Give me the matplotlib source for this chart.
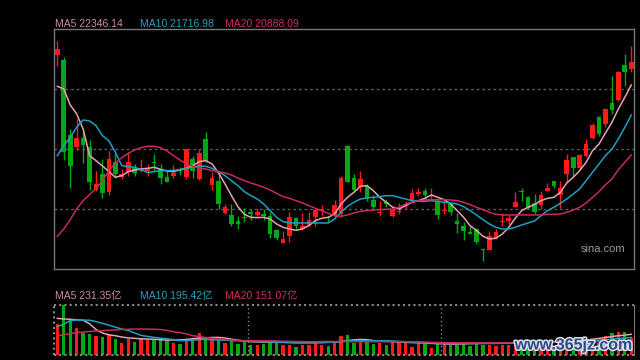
import numpy as np
import matplotlib
matplotlib.use("Agg")
import matplotlib.pyplot as plt
import matplotlib.patheffects as pe

plt.rcParams['font.family'] = ['Liberation Sans', 'Noto Sans CJK SC', 'DejaVu Sans']

# daily candles (index points)
opens = [22951, 22841, 21296, 21055, 21234, 21042, 20161, 20492, 20120, 20739,
         20423, 20540, 20615, 20554, 20547, 20746, 20595, 20437, 20443, 20588,
         20423, 20794, 20389, 21213, 20271, 20355, 19695, 19647, 19523, 19612,
         19709, 19654, 19667, 19619, 19337, 19076, 19221, 19578, 19358, 19447,
         19612, 19736, 19612, 19647, 19667, 21076, 20402, 20230, 20251, 19955,
         19681, 19908, 19633, 19702, 19853, 19955, 20086, 20134, 20045, 19942,
         19722, 19873, 19530, 19427, 19289, 19358, 18946, 18932, 19166, 19495,
         19530, 19818, 20141, 20024, 19894, 19860, 20148, 20348, 20066, 20492,
         20849, 20615, 20862, 21234, 21673, 21522, 21955, 22017, 22745, 22656]
highs = [23226, 22896, 21419, 21625, 21385, 21192, 20561, 20801, 20973, 20904,
         20595, 20938, 20698, 20801, 20691, 20904, 20698, 20561, 20677, 20643,
         21007, 20869, 20986, 21364, 20526, 20526, 19873, 19873, 19633, 19791,
         19770, 19770, 19770, 19716, 19358, 19324, 19702, 19598, 19681, 19716,
         19770, 19859, 19633, 19955, 20457, 21089, 20492, 20561, 20286, 20059,
         19942, 19976, 19839, 19894, 19942, 20182, 20196, 20203, 20203, 19962,
         19942, 19921, 19681, 19509, 19427, 19372, 18960, 19324, 19358, 19681,
         19654, 20114, 20210, 20045, 20079, 20148, 20306, 20355, 20355, 20904,
         20849, 20904, 21213, 21536, 21694, 21845, 22518, 22621, 22965, 23137]
lows = [22724, 20780, 20203, 20986, 20711, 20168, 20134, 19997, 20066, 20409,
        20389, 20457, 20457, 20526, 20457, 20561, 20286, 20320, 20409, 20464,
        20389, 20409, 20375, 20732, 20161, 19770, 19667, 19413, 19358, 19495,
        19550, 19633, 19550, 19166, 19131, 19069, 19097, 19358, 19344, 19427,
        19420, 19633, 19482, 19598, 19598, 20320, 20114, 20127, 19942, 19770,
        19633, 19805, 19612, 19667, 19770, 19921, 20045, 19976, 19976, 19564,
        19667, 19654, 19275, 19138, 19255, 19049, 18706, 18925, 19152, 19427,
        19461, 19805, 19942, 19770, 19667, 19770, 20134, 20196, 19784, 20320,
        20423, 20595, 20835, 21213, 21282, 21454, 21728, 22003, 22312, 22587]
closes = [23068, 20952, 20663, 21234, 21096, 20334, 20286, 20107, 20801, 20492,
          20492, 20732, 20512, 20608, 20588, 20718, 20402, 20334, 20505, 20554,
          21000, 20561, 20931, 20766, 20402, 19880, 19818, 19468, 19454, 19592,
          19674, 19716, 19633, 19262, 19180, 19152, 19598, 19413, 19420, 19537,
          19750, 19763, 19592, 19853, 20409, 20334, 20161, 20389, 19990, 19818,
          19709, 19880, 19750, 19729, 19880, 20100, 20114, 20059, 20066, 19654,
          19750, 19716, 19468, 19317, 19262, 19097, 18918, 19207, 19303, 19530,
          19578, 19914, 20120, 19798, 19716, 20066, 20203, 20251, 20196, 20780,
          20622, 20883, 21110, 21508, 21316, 21831, 21811, 22601, 22601, 22807]

ma5 = [22298, 22243, 21914, 21729, 21419, 20869, 20766, 20656, 20540, 20423,
       20457, 20540, 20574, 20595, 20608, 20629, 20588, 20554, 20540, 20574,
       20608, 20663, 20746, 20766, 20698, 20512, 20286, 20045, 19818, 19660,
       19598, 19592, 19598, 19564, 19461, 19392, 19358, 19330, 19358, 19427,
       19530, 19578, 19598, 19667, 19873, 20010, 20114, 20237, 20251, 20148,
       20010, 19908, 19805, 19770, 19839, 19908, 19942, 19990, 20059, 20010,
       19962, 19873, 19736, 19598, 19427, 19324, 19207, 19152, 19166, 19255,
       19392, 19578, 19736, 19805, 19860, 19942, 19990, 20010, 20114, 20306,
       20423, 20561, 20732, 20973, 21110, 21337, 21556, 21831, 22072, 22326]
ma10 = [20869, 21076, 21247, 21454, 21604, 21584, 21488, 21282, 21172, 20938,
        20663, 20643, 20629, 20581, 20519, 20540, 20561, 20561, 20567, 20581,
        20608, 20636, 20656, 20650, 20608, 20540, 20457, 20355, 20251, 20127,
        20045, 19976, 19873, 19736, 19598, 19509, 19482, 19482, 19482, 19482,
        19482, 19482, 19482, 19564, 19702, 19825, 19908, 19976, 19997, 20010,
        20024, 20045, 20045, 20010, 19976, 19942, 19928, 19928, 19942, 19928,
        19908, 19894, 19873, 19818, 19736, 19647, 19550, 19461, 19392, 19358,
        19358, 19392, 19440, 19482, 19523, 19633, 19736, 19805, 19887, 19976,
        20079, 20182, 20355, 20526, 20698, 20869, 21007, 21213, 21454, 21708]
ma20 = [19207, 19358, 19550, 19770, 19942, 20066, 20196, 20355, 20561, 20718,
        20828, 20917, 20986, 21035, 21062, 21062, 21035, 20966, 20869, 20780,
        20698, 20650, 20608, 20595, 20561, 20540, 20512, 20471, 20409, 20355,
        20306, 20265, 20217, 20162, 20093, 20024, 19990, 19942, 19894, 19839,
        19784, 19736, 19681, 19633, 19619, 19647, 19688, 19722, 19736, 19750,
        19756, 19763, 19770, 19805, 19873, 19908, 19935, 19955, 19962, 19962,
        19962, 19955, 19942, 19908, 19860, 19805, 19756, 19702, 19660, 19647,
        19647, 19647, 19647, 19647, 19647, 19647, 19660, 19660, 19667, 19702,
        19750, 19805, 19894, 20010, 20127, 20271, 20389, 20581, 20732, 20883]

# turnover, 亿
volume = [347, 562, 392, 302, 249, 238, 215, 200, 226, 177,
          136, 181, 147, 192, 170, 170, 162, 166, 136, 124,
          177, 192, 245, 196, 173, 196, 136, 158, 121, 139,
          109, 109, 121, 155, 155, 109, 113, 87, 113, 106,
          128, 106, 98, 143, 211, 222, 136, 143, 139, 121,
          128, 109, 139, 147, 132, 87, 136, 121, 75, 143,
          121, 113, 109, 121, 98, 143, 113, 113, 98, 113,
          113, 113, 121, 128, 136, 147, 109, 98, 128, 147,
          147, 121, 147, 147, 128, 211, 245, 256, 256, 185]
vol_ma5 = [411, 405, 400, 396, 390, 350, 285, 245, 225, 215,
           200, 190, 185, 180, 177, 175, 170, 166, 166, 168,
           173, 180, 188, 192, 195, 196, 188, 176, 165, 155,
           148, 145, 143, 143, 143, 140, 138, 136, 136, 137,
           138, 139, 141, 144, 147, 158, 168, 173, 170, 160,
           153, 151, 148, 145, 140, 137, 136, 132, 128, 125,
           123, 121, 121, 123, 125, 127, 128, 128, 128, 130,
           132, 134, 136, 138, 140, 143, 145, 147, 150, 153,
           156, 160, 166, 175, 185, 195, 205, 215, 222, 231]
vol_ma10 = [317, 345, 385, 392, 392, 390, 375, 355, 335, 312,
            290, 276, 245, 218, 207, 196, 187, 180, 170, 160,
            160, 165, 170, 173, 170, 166, 164, 160, 158, 156,
            153, 150, 147, 145, 142, 140, 138, 136, 135, 134,
            134, 136, 140, 145, 150, 155, 158, 158, 158, 158,
            158, 158, 155, 150, 145, 140, 139, 136, 133, 130,
            128, 128, 128, 128, 128, 128, 128, 130, 131, 132,
            133, 134, 134, 136, 138, 140, 143, 145, 147, 150,
            152, 155, 158, 161, 165, 170, 175, 182, 188, 195]
vol_ma20 = [215, 225, 240, 250, 257, 263, 268, 272, 277, 281,
            285, 288, 290, 290, 290, 288, 285, 275, 260, 250,
            235, 215, 205, 195, 185, 180, 172, 166, 163, 160,
            159, 158, 157, 156, 155, 153, 151, 149, 148, 147,
            147, 149, 150, 150, 149, 148, 147, 147, 147, 147,
            147, 147, 148, 148, 148, 147, 146, 143, 140, 138,
            136, 136, 135, 134, 134, 134, 134, 134, 134, 134,
            134, 134, 135, 136, 136, 137, 138, 139, 140, 141,
            143, 144, 145, 146, 146, 148, 149, 150, 151, 151]

ma_labels = ["MA5 22346.14", "MA10 21716.98", "MA20 20888.09"]
vol_labels = ["MA5 231.35亿", "MA10 195.42亿", "MA20 151.07亿"]
month_breaks = [29.5, 59.5]

UP, DOWN = '#ff1a1a', '#00a814'
C5, C10, C20 = '#e8a0b4', '#1ca0c4', '#c82a5c'
T5, T10, T20 = '#d08a9e', '#2a9ec0', '#d02c62'
GRID = '#5a5a5a'
BORDER = '#777777'

o = np.array(opens); c = np.array(closes)
h = np.array(highs); l = np.array(lows)
x = np.arange(len(o))
cols = [UP if cc >= oo else DOWN for oo, cc in zip(o, c)]

W, H = 640, 360
fig = plt.figure(figsize=(6.4, 3.6), dpi=100, facecolor='black')

def px_axes(x0, y0, x1, y1):
    return fig.add_axes([x0 / W, 1 - y1 / H, (x1 - x0) / W, (y1 - y0) / H])

ax = px_axes(54.3, 29.3, 634.3, 269.3)
ax.set_facecolor('black')
ylo, yhi = 18527, 23473
ax.set_ylim(ylo, yhi)
ax.set_xlim(-0.47, len(o) - 0.53)
for g in np.linspace(ylo, yhi, 5)[1:-1]:
    ax.axhline(g, color=GRID, lw=1, ls=(0, (2, 2)), zorder=0)

ax.vlines(x, l, h, color=cols, lw=1, zorder=2)
body = np.maximum(np.abs(c - o), 15)
ax.bar(x, body, bottom=np.minimum(o, c), width=0.72, color=cols, zorder=3, linewidth=0)
ax.plot(x, ma5, color=C5, lw=1.1, zorder=4)
ax.plot(x, ma10, color=C10, lw=1.1, zorder=4)
ax.plot(x, ma20, color=C20, lw=1.1, zorder=4)
ax.set_xticks([]); ax.set_yticks([])
for s in ax.spines.values():
    s.set_color(BORDER); s.set_linewidth(1)
ax.text(0.985, 0.085, "sina.com", transform=ax.transAxes, ha='right', va='center',
        color='#9a9a9a', fontsize=8)

vx = px_axes(54.3, 304.7, 634.3, 354.7)
vx.set_facecolor('black')
vx.set_ylim(0, 566)
vx.set_xlim(-0.47, len(o) - 0.53)
vx.bar(x, volume, width=0.52, color=cols, linewidth=0, zorder=2)
vx.plot(x, vol_ma5, color=C5, lw=1.1, zorder=3)
vx.plot(x, vol_ma10, color=C10, lw=1.1, zorder=3)
vx.plot(x, vol_ma20, color=C20, lw=1.1, zorder=3)
for b in month_breaks:
    vx.axvline(b, color='#888888', lw=1, ls=(0, (1, 2)), zorder=1)
vx.set_xticks([]); vx.set_yticks([])
for k in ['top', 'bottom', 'left']:
    vx.spines[k].set_visible(False)
vx.spines['right'].set_color(BORDER)
vx.axhline(566, color='#888888', lw=1.5, ls=(0, (1, 1.5)), clip_on=False)
vx.axhline(0, color='#888888', lw=1.5, ls=(0, (1, 1.5)), clip_on=False)
vx.axvline(-0.47, color='#888888', lw=1.5, ls=(0, (1, 1.5)), clip_on=False)

for txt, col, xp in zip(ma_labels, [T5, T10, T20], [55, 140, 225]):
    fig.text(xp / W, 1 - 24 / H, txt, color=col, fontsize=7.5, va='center', ha='left')
for txt, col, xp in zip(vol_labels, [T5, T10, T20], [55, 140, 225]):
    fig.text(xp / W, 1 - 295.5 / H, txt, color=col, fontsize=7.5, va='center', ha='left')

fig.text(633 / W, 1 - 345 / H, "www.365jz.com", color='#2b4a86', fontsize=11.5,
         fontweight='bold', ha='right', va='center',
         path_effects=[pe.withStroke(linewidth=2.2, foreground='#d8dde8')])

fig.savefig('out.png', dpi=100, facecolor='black')
